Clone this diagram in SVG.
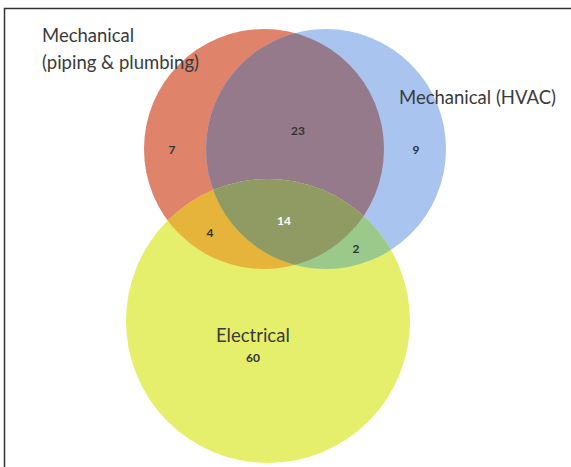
<svg xmlns="http://www.w3.org/2000/svg" width="571" height="467" viewBox="0 0 571 467">
  <style>
    .lbl { font-family: Lato, "Liberation Sans", sans-serif; font-size: 18.5px; fill: #3a3a3a; }
    .num { font-family: Lato, "Liberation Sans", sans-serif; font-size: 12px; font-weight: bold; fill: #333; text-anchor: middle; }
  </style>
  <defs>
    <circle id="cPipe" cx="264" cy="149" r="120"/>
    <circle id="cHvac" cx="326" cy="149" r="120"/>
    <circle id="cElec" cx="268" cy="321" r="142"/>
    <clipPath id="inPipe"><use href="#cPipe"/></clipPath>
    <clipPath id="inHvac"><use href="#cHvac"/></clipPath>
  </defs>
  <rect width="571" height="467" fill="#ffffff"/>
  <!-- frame: top and left rules -->
  <path d="M4.5 467 V8.5 H571" fill="none" stroke="#333" stroke-width="1.5"/>

  <g id="set-piping"><use href="#cPipe" fill="#e0836b"/></g>
  <g id="set-hvac"><use href="#cHvac" fill="#a9c5ef"/></g>
  <g id="piping-hvac"><use href="#cHvac" fill="#957a8c" clip-path="url(#inPipe)"/></g>
  <g id="set-electrical"><use href="#cElec" fill="#e6ef6b"/></g>
  <g id="piping-electrical"><use href="#cElec" fill="#e6b43a" clip-path="url(#inPipe)"/></g>
  <g id="hvac-electrical"><use href="#cElec" fill="#9bc98c" clip-path="url(#inHvac)"/></g>
  <g id="all-three" clip-path="url(#inPipe)"><use href="#cElec" fill="#909b63" clip-path="url(#inHvac)"/></g>

  <g id="labels">
    <text class="lbl" x="42" y="42">Mechanical</text>
    <text class="lbl" x="42" y="69">(piping &amp; plumbing)</text>
    <text class="lbl" x="399" y="104">Mechanical (HVAC)</text>
    <text class="lbl" x="216" y="342">Electrical</text>
  </g>
  <g id="counts">
    <text class="num" x="172" y="154">7</text>
    <text class="num" x="298" y="135">23</text>
    <text class="num" x="416" y="154">9</text>
    <text class="num" x="284" y="225" style="fill:#ffffff">14</text>
    <text class="num" x="210" y="237">4</text>
    <text class="num" x="356" y="253">2</text>
    <text class="num" x="253" y="362">60</text>
  </g>
</svg>
